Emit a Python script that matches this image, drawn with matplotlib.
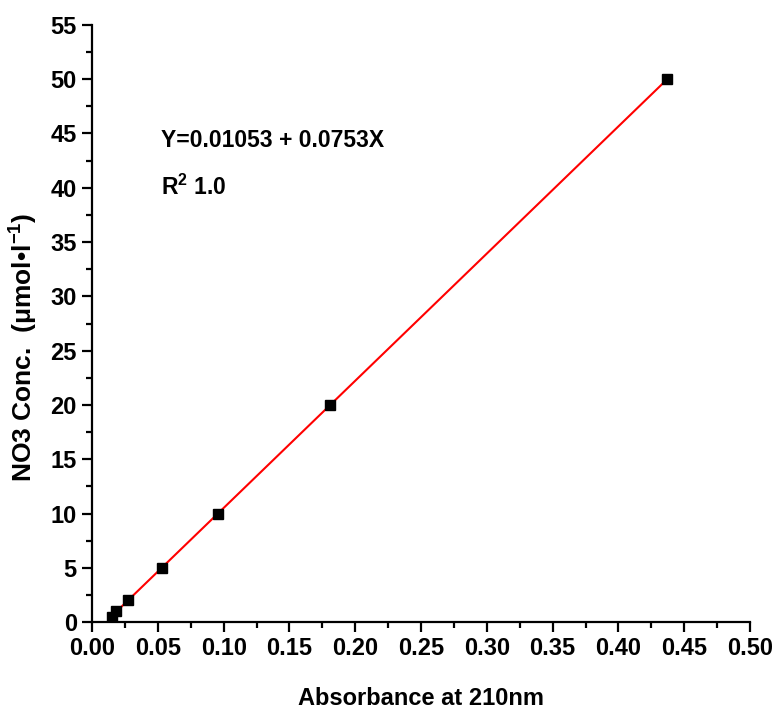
import numpy as np
import matplotlib
matplotlib.use("Agg")
import matplotlib.pyplot as plt
from matplotlib.ticker import MultipleLocator

plt.rcParams['font.family'] = ['Liberation Sans', 'DejaVu Sans']
plt.rcParams['font.weight'] = 'bold'
plt.rcParams['mathtext.fontset'] = 'custom'
plt.rcParams['mathtext.rm'] = 'Liberation Sans:bold'
plt.rcParams['mathtext.bf'] = 'Liberation Sans:bold'
plt.rcParams['mathtext.default'] = 'bf'

absorbance = [0.015, 0.018, 0.027, 0.053, 0.096, 0.181, 0.437]
concentration = [0.5, 1, 2, 5, 10, 20, 50]

fig = plt.figure(figsize=(7.74, 7.11), dpi=100)
ax = fig.add_axes([0.119, 0.125, 0.850, 0.840])

# linear fit drawn across the measured range
slope, intercept = np.polyfit(absorbance, concentration, 1)
xs = np.array([min(absorbance), max(absorbance)])
ax.plot(xs, intercept + slope * xs, color='red', lw=1.5, zorder=2)
ax.plot(absorbance, concentration, 's', color='black', markersize=7.5, zorder=3)

ax.set_xlim(0, 0.5)
ax.set_ylim(0, 55)
ax.xaxis.set_major_locator(MultipleLocator(0.05))
ax.xaxis.set_minor_locator(MultipleLocator(0.025))
ax.yaxis.set_major_locator(MultipleLocator(5))
ax.yaxis.set_minor_locator(MultipleLocator(2.5))
ax.xaxis.set_major_formatter(plt.FuncFormatter(lambda v, p: f"{v:.2f}"))

for s in ('top', 'right'):
    ax.spines[s].set_visible(False)
for s in ('left', 'bottom'):
    ax.spines[s].set_linewidth(1.6)
ax.tick_params(which='major', direction='out', length=7, width=1.6, pad=4)
ax.tick_params(which='minor', direction='out', length=4, width=1.6)
for lab in ax.get_xticklabels() + ax.get_yticklabels():
    lab.set_fontfamily(['Liberation Sans Narrow', 'Liberation Sans'])
    lab.set_fontsize(17)
    lab.set_fontweight('bold')

ax.set_xlabel("Absorbance at 210nm", fontsize=17, fontweight='bold')
ax.xaxis.set_label_coords(0.5, -0.108)
ax.set_ylabel("NO3 Conc.  (\u03bcmol\u2022l$^{-1}$)", fontsize=19, fontweight='bold')
ax.yaxis.set_label_coords(-0.079, 0.46)

ax.text(0.052, 43.8, "Y=0.01053 + 0.0753X", fontsize=16.5, fontweight='bold')
ax.text(0.052, 39.3, "R$^{2}$ 1.0", fontsize=16.5, fontweight='bold')

fig.savefig("out.png", dpi=100, facecolor='white')
